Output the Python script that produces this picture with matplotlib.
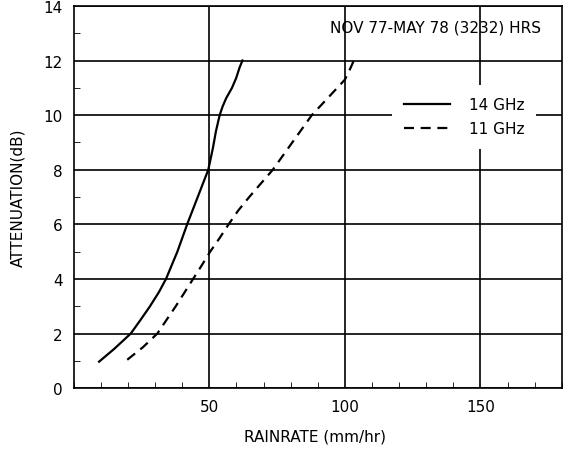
import matplotlib.pyplot as plt
from matplotlib.ticker import MultipleLocator

plt.rcParams['font.family'] = ['DejaVu Sans']

# 14 GHz curve (solid)
att_14 = [0.97, 1.43, 2.0, 2.5, 2.97, 3.52, 4.0, 5.0, 6.0, 7.0, 8.0, 8.79, 9.4, 10.0,
          10.32, 10.62, 10.99, 11.36, 11.73, 12.0]
rain_14 = [9.3, 14.8, 21.0, 24.6, 27.9, 31.4, 34.0, 38.2, 41.8, 45.7, 49.6, 51.3, 52.4,
           53.8, 54.9, 56.2, 58.3, 59.9, 61.1, 62.2]

# 11 GHz curve (dashed)
att_11 = [1.04, 1.5, 2.0, 3.0, 4.0, 4.5, 5.0, 5.5, 6.0, 6.5, 7.0, 8.0, 9.0, 10.0, 10.5,
          11.0, 11.3, 11.6, 12.0]
rain_11 = [19.7, 25.5, 30.8, 37.6, 44.0, 47.2, 50.3, 53.8, 57.1, 60.6, 64.7, 73.4, 80.6,
           87.8, 92.5, 97.2, 100.0, 101.5, 103.3]

fig = plt.figure(figsize=(5.68, 4.6), dpi=100)
ax = fig.add_axes([0.130, 0.154, 0.859, 0.831])

ax.plot(rain_14, att_14, color='black', lw=1.6, label='14 GHz')
ax.plot(rain_11, att_11, color='black', lw=1.6, ls=(0, (4.5, 3)), label='11 GHz')

ax.set_xlim(0, 180)
ax.set_ylim(0, 14)
ax.xaxis.set_minor_locator(MultipleLocator(10))
ax.yaxis.set_major_locator(MultipleLocator(2))
ax.yaxis.set_minor_locator(MultipleLocator(1))
ax.set_xticks([50, 100, 150])
ax.grid(True, which='major', color='black', lw=1.2)
ax.tick_params(which='both', direction='in', labelsize=11)
ax.tick_params(which='major', length=0, pad=8)
ax.tick_params(which='minor', length=4)
for s in ax.spines.values():
    s.set_linewidth(1.2)

fig.text(0.555, 0.05, 'RAINRATE (mm/hr)', ha='center', va='center', fontsize=11)
fig.text(0.032, 0.57, 'ATTENUATION(dB)', ha='center', va='center', fontsize=11,
         rotation=90)

ax.text(0.742, 0.945, 'NOV 77-MAY 78 (3232) HRS', transform=ax.transAxes,
        ha='center', va='center', fontsize=11)

leg = ax.legend(loc='center', bbox_to_anchor=(0.80, 0.710), fontsize=11,
                frameon=True, facecolor='white', edgecolor='none', framealpha=1,
                handlelength=3, handletextpad=1.2, borderpad=0.8, labelspacing=0.6)

fig.savefig('out.png', dpi=100)
